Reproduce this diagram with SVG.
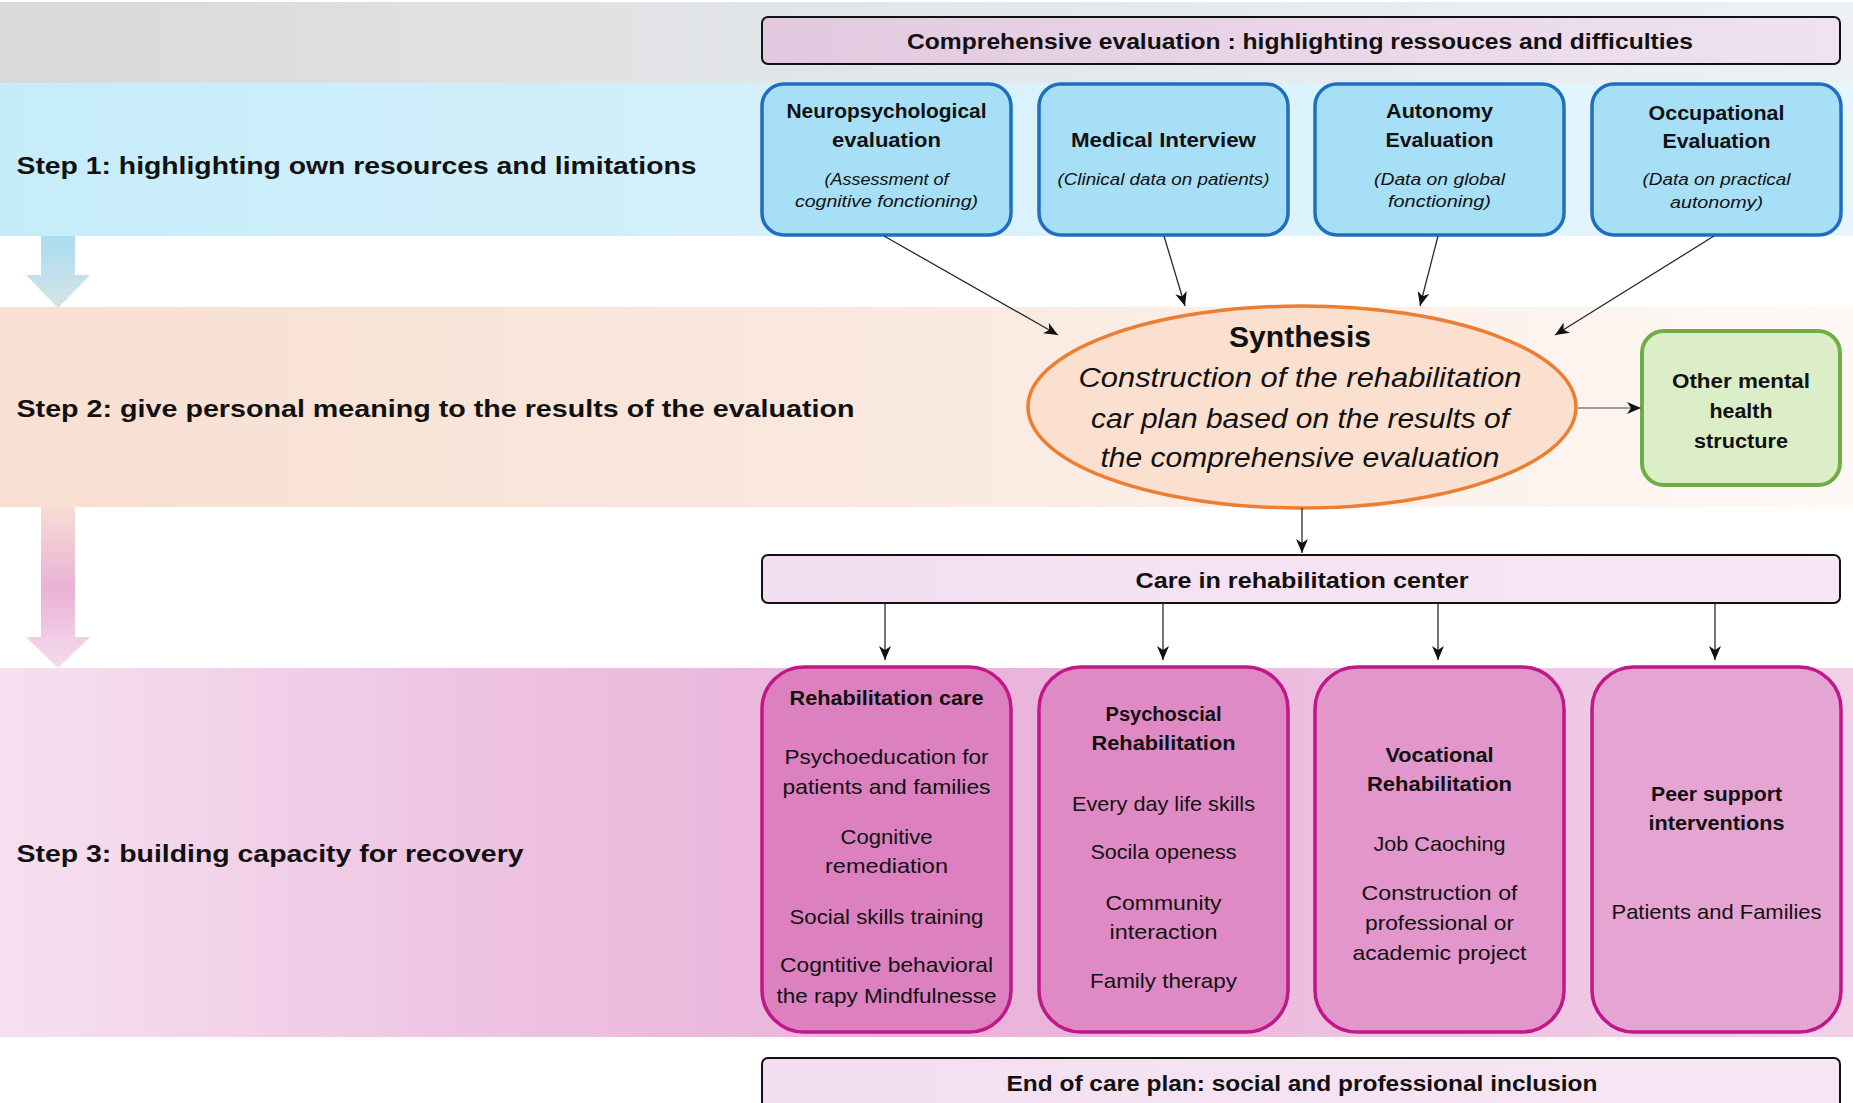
<svg xmlns="http://www.w3.org/2000/svg" width="1853" height="1103" viewBox="0 0 1853 1103">
<defs>
<style>
.t{font-family:"Liberation Sans",Arial,sans-serif;fill:#111;text-anchor:middle}
.l{text-anchor:start}
.b{font-weight:bold}
.i{font-style:italic}
.conn{stroke:#2a2a2a;stroke-width:1.3;fill:none;marker-end:url(#arr)}
.bar{stroke:#111;stroke-width:2}
.card{fill:#a6dff6;stroke:#1e6fc2;stroke-width:3.5}
.pink{stroke:#c0178b;stroke-width:3.5}
</style>
<marker id="arr" markerUnits="userSpaceOnUse" markerWidth="14" markerHeight="12" refX="14" refY="6" orient="auto">
<path d="M0,0 L14,6 L0,12 L4,6 Z" fill="#111"/>
</marker>
<linearGradient id="gGray" x1="0" y1="0" x2="1" y2="0">
<stop offset="0" stop-color="#d9d9d9"/><stop offset="0.41" stop-color="#e2e5e7"/><stop offset="1" stop-color="#eef1f3"/>
</linearGradient>
<linearGradient id="gBlue" x1="0" y1="0" x2="1" y2="0">
<stop offset="0" stop-color="#c6ecfa"/><stop offset="0.41" stop-color="#d4f0fb"/><stop offset="1" stop-color="#e6f6fc"/>
</linearGradient>
<linearGradient id="gOrange" x1="0" y1="0" x2="1" y2="0">
<stop offset="0" stop-color="#f8e0d2"/><stop offset="0.38" stop-color="#f9e6dc"/><stop offset="0.7" stop-color="#fcefe8"/><stop offset="1" stop-color="#fef9f6"/>
</linearGradient>
<linearGradient id="gPink" x1="0" y1="0" x2="1" y2="0">
<stop offset="0" stop-color="#f6e0f0"/><stop offset="0.27" stop-color="#eec2e2"/><stop offset="0.5" stop-color="#e9b1d9"/><stop offset="1" stop-color="#f1d0e8"/>
</linearGradient>
<linearGradient id="gArrB" x1="0" y1="0" x2="0" y2="1">
<stop offset="0" stop-color="#a9ddf0"/><stop offset="1" stop-color="#d6e3e6"/>
</linearGradient>
<linearGradient id="gArrP" x1="0" y1="0" x2="0" y2="1">
<stop offset="0" stop-color="#f7ddd5"/><stop offset="0.5" stop-color="#eab2d6"/><stop offset="1" stop-color="#f4dcee"/>
</linearGradient>
<linearGradient id="gComp" x1="0" y1="0" x2="1" y2="0">
<stop offset="0" stop-color="#e2c9df"/><stop offset="1" stop-color="#f0e2f0"/>
</linearGradient>
<linearGradient id="gCare" x1="0" y1="0" x2="1" y2="0">
<stop offset="0" stop-color="#f3def1"/><stop offset="1" stop-color="#f7e7f4"/>
</linearGradient>
</defs>

<g id="bands">
<rect x="0" y="2" width="1853" height="81" fill="url(#gGray)"/>
<rect x="0" y="83" width="1853" height="153" fill="url(#gBlue)"/>
<rect x="0" y="307" width="1853" height="200" fill="url(#gOrange)"/>
<rect x="0" y="668" width="1853" height="369" fill="url(#gPink)"/>
</g>

<g id="step-arrows">
<polygon points="41,236 75,236 75,275 90,275 58,308 26,275 41,275" fill="url(#gArrB)"/>
<polygon points="41,507 75,507 75,637 90,637 58,668 26,637 41,637" fill="url(#gArrP)"/>
</g>

<g id="step-labels">
<text class="t l b" x="16.5" y="174" font-size="24" textLength="680" lengthAdjust="spacingAndGlyphs">Step 1: highlighting own resources and limitations</text>
<text class="t l b" x="16.5" y="417" font-size="24" textLength="838" lengthAdjust="spacingAndGlyphs">Step 2: give personal meaning to the results of the evaluation</text>
<text class="t l b" x="16.5" y="862" font-size="24" textLength="507" lengthAdjust="spacingAndGlyphs">Step 3: building capacity for recovery</text>
</g>

<g id="node-comprehensive">
<rect x="762" y="17" width="1078" height="47" rx="6" fill="url(#gComp)" class="bar"/>
<text class="t b" x="1300" y="49" font-size="22" textLength="786" lengthAdjust="spacingAndGlyphs">Comprehensive evaluation : highlighting ressouces and difficulties</text>
</g>

<g id="node-neuro">
<rect x="762" y="84" width="249" height="151" rx="22" class="card"/>
<text class="t b" x="886.5" y="118" font-size="20" textLength="200" lengthAdjust="spacingAndGlyphs">Neuropsychological</text>
<text class="t b" x="886.5" y="147" font-size="20" textLength="109" lengthAdjust="spacingAndGlyphs">evaluation</text>
<text class="t i" x="886.5" y="185" font-size="16" textLength="124" lengthAdjust="spacingAndGlyphs">(Assessment of</text>
<text class="t i" x="886.5" y="207" font-size="16" textLength="183" lengthAdjust="spacingAndGlyphs">cognitive fonctioning)</text>
</g>

<g id="node-medical">
<rect x="1039" y="84" width="249" height="151" rx="22" class="card"/>
<text class="t b" x="1163.5" y="147" font-size="20" textLength="185" lengthAdjust="spacingAndGlyphs">Medical Interview</text>
<text class="t i" x="1163.5" y="185" font-size="16" textLength="212" lengthAdjust="spacingAndGlyphs">(Clinical data on patients)</text>
</g>

<g id="node-autonomy">
<rect x="1315" y="84" width="249" height="151" rx="22" class="card"/>
<text class="t b" x="1439.5" y="118" font-size="20" textLength="107" lengthAdjust="spacingAndGlyphs">Autonomy</text>
<text class="t b" x="1439.5" y="147" font-size="20" textLength="108" lengthAdjust="spacingAndGlyphs">Evaluation</text>
<text class="t i" x="1439.5" y="185" font-size="16" textLength="131" lengthAdjust="spacingAndGlyphs">(Data on global</text>
<text class="t i" x="1439.5" y="207" font-size="16" textLength="103" lengthAdjust="spacingAndGlyphs">fonctioning)</text>
</g>

<g id="node-occupational">
<rect x="1592" y="84" width="249" height="151" rx="22" class="card"/>
<text class="t b" x="1716.5" y="120" font-size="20" textLength="136" lengthAdjust="spacingAndGlyphs">Occupational</text>
<text class="t b" x="1716.5" y="148" font-size="20" textLength="108" lengthAdjust="spacingAndGlyphs">Evaluation</text>
<text class="t i" x="1716.5" y="185" font-size="16" textLength="148" lengthAdjust="spacingAndGlyphs">(Data on practical</text>
<text class="t i" x="1716.5" y="208" font-size="16" textLength="93" lengthAdjust="spacingAndGlyphs">autonomy)</text>
</g>

<g id="node-synthesis">
<ellipse cx="1302" cy="407" rx="274" ry="101" fill="#fbdfcf" stroke="#ed7d31" stroke-width="3.5"/>
<text class="t b" x="1300" y="347" font-size="29" textLength="142" lengthAdjust="spacingAndGlyphs">Synthesis</text>
<text class="t i" x="1300" y="387" font-size="27" textLength="443" lengthAdjust="spacingAndGlyphs">Construction of the rehabilitation</text>
<text class="t i" x="1300" y="428" font-size="27" textLength="418" lengthAdjust="spacingAndGlyphs">car plan based on the results of</text>
<text class="t i" x="1300" y="467" font-size="27" textLength="399" lengthAdjust="spacingAndGlyphs">the comprehensive evaluation</text>
</g>

<g id="node-other">
<rect x="1642" y="331" width="198" height="154" rx="22" fill="#dbeec8" stroke="#70ad47" stroke-width="4"/>
<text class="t b" x="1741" y="388" font-size="20" textLength="138" lengthAdjust="spacingAndGlyphs">Other mental</text>
<text class="t b" x="1741" y="418" font-size="20" textLength="63" lengthAdjust="spacingAndGlyphs">health</text>
<text class="t b" x="1741" y="448" font-size="20" textLength="94" lengthAdjust="spacingAndGlyphs">structure</text>
</g>

<g id="node-care">
<rect x="762" y="555" width="1078" height="48" rx="6" fill="url(#gCare)" class="bar"/>
<text class="t b" x="1302" y="588" font-size="22" textLength="333" lengthAdjust="spacingAndGlyphs">Care in rehabilitation center</text>
</g>

<g id="node-rehab-care">
<rect x="762" y="667" width="249" height="365" rx="42" fill="#dc80c0" class="pink"/>
<text class="t b" x="886.5" y="705" font-size="20" textLength="194" lengthAdjust="spacingAndGlyphs">Rehabilitation care</text>
<text class="t" x="886.5" y="764" font-size="21" textLength="204" lengthAdjust="spacingAndGlyphs">Psychoeducation for</text>
<text class="t" x="886.5" y="794" font-size="21" textLength="208" lengthAdjust="spacingAndGlyphs">patients and families</text>
<text class="t" x="886.5" y="844" font-size="21" textLength="92" lengthAdjust="spacingAndGlyphs">Cognitive</text>
<text class="t" x="886.5" y="873" font-size="21" textLength="123" lengthAdjust="spacingAndGlyphs">remediation</text>
<text class="t" x="886.5" y="924" font-size="21" textLength="194" lengthAdjust="spacingAndGlyphs">Social skills training</text>
<text class="t" x="886.5" y="972" font-size="21" textLength="213" lengthAdjust="spacingAndGlyphs">Cogntitive behavioral</text>
<text class="t" x="886.5" y="1003" font-size="21" textLength="220" lengthAdjust="spacingAndGlyphs">the rapy Mindfulnesse</text>
</g>

<g id="node-psychosocial">
<rect x="1039" y="667" width="249" height="365" rx="42" fill="#df8ac5" class="pink"/>
<text class="t b" x="1163.5" y="721" font-size="20" textLength="116" lengthAdjust="spacingAndGlyphs">Psychoscial</text>
<text class="t b" x="1163.5" y="750" font-size="20" textLength="144" lengthAdjust="spacingAndGlyphs">Rehabilitation</text>
<text class="t" x="1163.5" y="811" font-size="21" textLength="183" lengthAdjust="spacingAndGlyphs">Every day life skills</text>
<text class="t" x="1163.5" y="859" font-size="21" textLength="146" lengthAdjust="spacingAndGlyphs">Socila openess</text>
<text class="t" x="1163.5" y="910" font-size="21" textLength="116" lengthAdjust="spacingAndGlyphs">Community</text>
<text class="t" x="1163.5" y="939" font-size="21" textLength="108" lengthAdjust="spacingAndGlyphs">interaction</text>
<text class="t" x="1163.5" y="988" font-size="21" textLength="147" lengthAdjust="spacingAndGlyphs">Family therapy</text>
</g>

<g id="node-vocational">
<rect x="1315" y="667" width="249" height="365" rx="42" fill="#e296cb" class="pink"/>
<text class="t b" x="1439.5" y="762" font-size="20" textLength="108" lengthAdjust="spacingAndGlyphs">Vocational</text>
<text class="t b" x="1439.5" y="791" font-size="20" textLength="145" lengthAdjust="spacingAndGlyphs">Rehabilitation</text>
<text class="t" x="1439.5" y="851" font-size="21" textLength="132" lengthAdjust="spacingAndGlyphs">Job Caoching</text>
<text class="t" x="1439.5" y="900" font-size="21" textLength="156" lengthAdjust="spacingAndGlyphs">Construction of</text>
<text class="t" x="1439.5" y="930" font-size="21" textLength="149" lengthAdjust="spacingAndGlyphs">professional or</text>
<text class="t" x="1439.5" y="960" font-size="21" textLength="174" lengthAdjust="spacingAndGlyphs">academic project</text>
</g>

<g id="node-peer">
<rect x="1592" y="667" width="249" height="365" rx="42" fill="#e6a4d3" class="pink"/>
<text class="t b" x="1716.5" y="801" font-size="20" textLength="131" lengthAdjust="spacingAndGlyphs">Peer support</text>
<text class="t b" x="1716.5" y="830" font-size="20" textLength="136" lengthAdjust="spacingAndGlyphs">interventions</text>
<text class="t" x="1716.5" y="919" font-size="21" textLength="210" lengthAdjust="spacingAndGlyphs">Patients and Families</text>
</g>

<g id="node-end">
<rect x="762" y="1058" width="1078" height="60" rx="6" fill="url(#gCare)" class="bar"/>
<text class="t b" x="1302" y="1091" font-size="22" textLength="591" lengthAdjust="spacingAndGlyphs">End of care plan: social and professional inclusion</text>
</g>

<g id="connectors">
<line class="conn" x1="884" y1="236" x2="1058" y2="335"/>
<line class="conn" x1="1164" y1="236" x2="1185" y2="306"/>
<line class="conn" x1="1438" y1="236" x2="1420" y2="306"/>
<line class="conn" x1="1714" y1="236" x2="1555" y2="335"/>
<line class="conn" x1="1578" y1="408" x2="1641" y2="408" style="stroke:#808080"/>
<line class="conn" x1="1302" y1="508" x2="1302" y2="553"/>
<line class="conn" x1="885" y1="603" x2="885" y2="660"/>
<line class="conn" x1="1163" y1="603" x2="1163" y2="660"/>
<line class="conn" x1="1438" y1="603" x2="1438" y2="660"/>
<line class="conn" x1="1715" y1="603" x2="1715" y2="660"/>
</g>
</svg>
